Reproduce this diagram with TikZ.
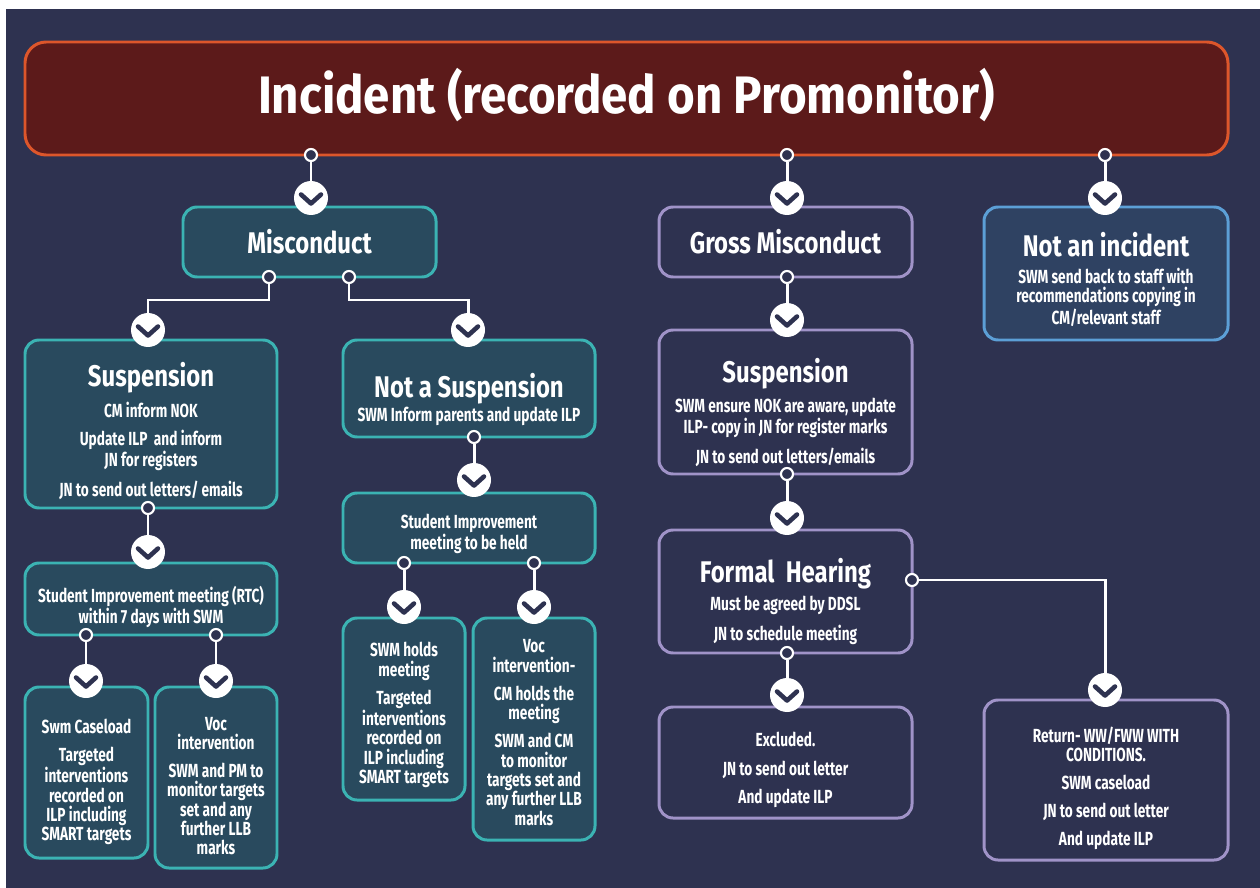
\documentclass[tikz,border=0pt]{standalone}
\usepackage{fontspec}
\setmainfont{Fira Sans}[FakeStretch=0.72]
\newfontfamily\titlefam{Fira Sans}[FakeStretch=0.9]
\newfontfamily\headfam{Fira Sans}[FakeStretch=0.8]
\usetikzlibrary{fit,calc}
\definecolor{bgnavy}{HTML}{2E3250}
\definecolor{titlefill}{HTML}{5C1A1A}
\definecolor{titleline}{HTML}{DD562B}
\definecolor{tealfill}{HTML}{294A5E}
\definecolor{tealline}{HTML}{3BB3B3}
\definecolor{lilacline}{HTML}{A093C8}
\definecolor{bluefill}{HTML}{2F4262}
\definecolor{blueline}{HTML}{5C9FD6}
\newcommand\titletxt{\titlefam\bfseries\fontsize{30}{34}\selectfont}
\newcommand\headtxt{\headfam\bfseries\fontsize{17}{19}\selectfont}
\newcommand\bodytxt{\bfseries\fontsize{10.8}{11}\selectfont}
\begin{document}
\begin{tikzpicture}[x=0.02cm,y=-0.02cm,
	box/.style={line width=1.7pt, rounded corners=8pt, inner sep=0pt},
	tealbox/.style={box, draw=tealline, fill=tealfill},
	lilacbox/.style={box, draw=lilacline, fill=bgnavy},
	bluebox/.style={box, draw=blueline, fill=bluefill},
	txt/.style={inner sep=0pt, align=center, text=white, font=\bodytxt},
	ring/.style={circle, draw=white, fill=bgnavy, line width=1.2pt, minimum size=0.24cm, inner sep=0pt},
	check/.style={circle, fill=white, minimum size=0.68cm, inner sep=0pt,
		path picture={\draw[bgnavy, line width=2.6pt, line cap=round, line join=round]
			([xshift=-0.2cm,yshift=0.07cm]path picture bounding box.center) --
			([yshift=-0.11cm]path picture bounding box.center) --
			([xshift=0.2cm,yshift=0.07cm]path picture bounding box.center);}},
	wire/.style={draw=white, line width=1.7pt}]
	% background
	\fill[white] (0,0) rectangle (1260,888);
	\fill[bgnavy] (6,9) rectangle (1260,888);

	\node[box, draw=titleline, fill=titlefill, rounded corners=12pt, fit={(25,42) (1228,155)}] (title) {};
	\node[txt, font=\titletxt] (title-t) at ($(title)+(0,-3)$) {Incident (recorded on Promonitor)};

	% first level
	\node[tealbox, fit={(183,207) (436,277)}] (misc) {};
	\node[txt, font=\headtxt] (misc-t) at (misc) {Misconduct};
	\node[lilacbox, fit={(659,207) (912,277)}] (gross) {};
	\node[txt, font=\headtxt] (gross-t) at (gross) {Gross Misconduct};
	\node[bluebox, fit={(984,207) (1228,340)}] (notinc) {};
	\node[txt] (notinc-t) at ($(notinc)+(0,6)$) {{\headtxt Not an incident}\\[4pt]SWM send back to staff with\\recommendations copying in\\CM/relevant staff};

	% misconduct branch
	\node[tealbox, fit={(25,340) (277,508)}] (suspL) {};
	\node[txt] (suspL-t) at ($(suspL)+(0,7)$) {{\headtxt Suspension}\\[4pt]CM inform NOK\\[5pt]Update ILP\ \ and inform\\JN for registers\\[5pt]JN to send out letters/ emails};
	\node[tealbox, fit={(343,340) (595,437)}] (notsusp) {};
	\node[txt] (notsusp-t) at ($(notsusp)+(0,11)$) {{\headtxt Not a Suspension}\\[1pt]SWM Inform parents and update ILP};
	\node[tealbox, fit={(343,493) (595,563)}] (simheld) {};
	\node[txt] (simheld-t) at ($(simheld)+(0,6)$) {Student Improvement\\meeting to be held};
	\node[tealbox, fit={(343,618) (465,800)}] (swmholds) {};
	\node[txt] (swmholds-t) at ($(swmholds)+(0,6)$) {SWM holds\\meeting\\[5pt]Targeted\\interventions\\recorded on\\ILP including\\SMART targets};
	\node[tealbox, fit={(473,618) (595,840)}] (voccm) {};
	\node[txt] (voccm-t) at ($(voccm)+(0,3.5)$) {Voc\\intervention-\\[5pt]CM holds the\\meeting\\[5pt]SWM and CM\\to monitor\\targets set and\\any further LLB\\marks};
	\node[tealbox, fit={(25,563) (277,635)}] (simrtc) {};
	\node[txt] (simrtc-t) at ($(simrtc)+(0,8)$) {Student Improvement meeting (RTC)\\within 7 days with SWM};
	\node[tealbox, fit={(25,687) (148,858)}] (caseload) {};
	\node[txt] (caseload-t) at ($(caseload)+(0,9.5)$) {Swm Caseload\\[5pt]Targeted\\interventions\\recorded on\\ILP including\\SMART targets};
	\node[tealbox, fit={(155,687) (277,868)}] (vocpm) {};
	\node[txt] (vocpm-t) at ($(vocpm)+(0,8.5)$) {Voc\\intervention\\[5pt]SWM and PM to\\monitor targets\\set and any\\further LLB\\marks};

	% gross misconduct branch
	\node[lilacbox, fit={(659,330) (912,474)}] (suspR) {};
	\node[txt] (suspR-t) at ($(suspR)+(0,10.5)$) {{\headtxt Suspension}\\[4pt]SWM ensure NOK are aware, update\\ILP- copy in JN for register marks\\[5pt]JN to send out letters/emails};
	\node[lilacbox, fit={(659,530) (912,653)}] (hearing) {};
	\node[txt] (hearing-t) at ($(hearing)+(0,10)$) {{\headtxt Formal\ \ Hearing}\\[3pt]Must be agreed by DDSL\\[5pt]JN to schedule meeting};
	\node[lilacbox, fit={(659,707) (912,818)}] (excluded) {};
	\node[txt] (excluded-t) at ($(excluded)+(0,7.5)$) {Excluded.\\[5pt]JN to send out letter\\[5pt]And update ILP};
	\node[lilacbox, fit={(984,700) (1228,860)}] (returnbox) {};
	\node[txt] (returnbox-t) at ($(returnbox)+(0,8.5)$) {Return- WW/FWW WITH\\CONDITIONS.\\[5pt]SWM caseload\\[5pt]JN to send out letter\\[5pt]And update ILP};

	% rings
	\node[ring] (tr1) at (311,155) {};
	\node[ring] (tr2) at (787,155) {};
	\node[ring] (tr3) at (1105,155) {};
	\node[ring] (mr1) at (269,277) {};
	\node[ring] (mr2) at (349,277) {};
	\node[ring] (gr1) at (787,277) {};
	\node[ring] (sr1) at (148,508) {};
	\node[ring] (nr1) at (474,437) {};
	\node[ring] (hr1) at (404,563) {};
	\node[ring] (hr2) at (534,563) {};
	\node[ring] (rr1) at (86,635) {};
	\node[ring] (rr2) at (216,635) {};
	\node[ring] (sr2) at (787,474) {};
	\node[ring] (fr1) at (912,580) {};
	\node[ring] (fr2) at (787,653) {};

	% checks
	\node[check] (ckmisc) at (311,198) {};
	\node[check] (ckgross) at (787,198) {};
	\node[check] (cknotinc) at (1105,198) {};
	\node[check] (cksuspL) at (148,330) {};
	\node[check] (cknotsusp) at (468,330) {};
	\node[check] (cksuspR) at (787,320) {};
	\node[check] (cksimrtc) at (148,552) {};
	\node[check] (cksimheld) at (474,480) {};
	\node[check] (ckcaseload) at (86,681) {};
	\node[check] (ckvocpm) at (216,681) {};
	\node[check] (ckswmholds) at (404,607) {};
	\node[check] (ckvoccm) at (534,607) {};
	\node[check] (ckhearing) at (787,518) {};
	\node[check] (ckexcluded) at (787,695) {};
	\node[check] (ckreturn) at (1105,690) {};

	\coordinate (bendL) at (148,300);
	\coordinate (bendR) at (468,300);

	% connectors
	\draw[wire] (tr1) -- (ckmisc);
	\draw[wire] (tr2) -- (ckgross);
	\draw[wire] (tr3) -- (cknotinc);
	\draw[wire] (mr1) |- (bendL) -- (cksuspL);
	\draw[wire] (mr2) |- (bendR) -- (cknotsusp);
	\draw[wire] (gr1) -- (cksuspR);
	\draw[wire] (sr1) -- (cksimrtc);
	\draw[wire] (nr1) -- (cksimheld);
	\draw[wire] (rr1) -- (ckcaseload);
	\draw[wire] (rr2) -- (ckvocpm);
	\draw[wire] (hr1) -- (ckswmholds);
	\draw[wire] (hr2) -- (ckvoccm);
	\draw[wire] (sr2) -- (ckhearing);
	\draw[wire] (fr2) -- (ckexcluded);
	\draw[wire] (fr1) -| (ckreturn);
\end{tikzpicture}
\end{document}
